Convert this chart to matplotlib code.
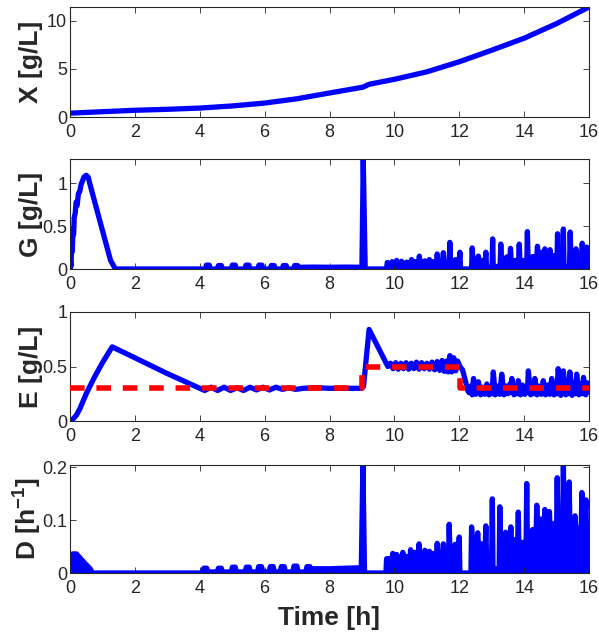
import numpy as np
import matplotlib
matplotlib.use('Agg')
import matplotlib.pyplot as plt
from matplotlib import ticker

plt.rcParams['font.family'] = ['Liberation Sans', 'DejaVu Sans']
plt.rcParams['mathtext.fontset'] = 'custom'
plt.rcParams['mathtext.rm'] = 'Liberation Sans'
plt.rcParams['mathtext.bf'] = 'Liberation Sans:bold'
plt.rcParams['lines.scale_dashes'] = False

# ---------------- data ----------------
# Biomass X [g/L]
X_t = [0, 1, 2, 3, 4, 5, 6, 7, 8, 9.04, 9.2, 9.3, 9.77, 10, 11, 12, 13, 14, 15, 16]
X_v = [0.40, 0.55, 0.70, 0.80, 0.93, 1.15, 1.45, 1.90, 2.50, 3.11, 3.38, 3.46, 3.77, 3.92, 4.70, 5.75, 6.95, 8.20, 9.72, 11.45]

# Glucose G [g/L] : initial transient and pre-9h part
G_head_t = [0, 0.01, 0.03, 0.05, 0.07, 0.09, 0.11, 0.13, 0.16, 0.19, 0.22, 0.26, 0.30,
            0.34, 0.38, 0.43, 0.50, 0.56, 0.62, 1.00, 1.25, 1.40, 4.10]
G_head_v = [0, 0.10, 0.03, 0.28, 0.20, 0.45, 0.40, 0.60, 0.65, 0.78, 0.74, 0.88, 0.90,
            0.98, 1.02, 1.07, 1.09, 1.07, 0.98, 0.45, 0.10, 0.0, 0.0]
G_bump_c = [4.25, 4.62, 5.05, 5.47, 5.87, 6.25, 6.62, 6.97]
G_bump_h = [0.045, 0.040, 0.045, 0.045, 0.045, 0.040, 0.040, 0.040]
G_mid_t = [7.10, 7.50, 8.00, 8.50, 9.00, 9.04, 9.10, 9.74]
G_mid_v = [0.020, 0.022, 0.020, 0.022, 0.020, 1.28, 0.0, 0.0]
G_spk_t = [9.78, 9.93, 10.07, 10.22, 10.38, 10.53, 10.64, 10.77, 10.94, 11.08, 11.20,
           11.32, 11.51, 11.71, 11.90, 12.02, 12.40, 12.59, 12.69, 12.82, 13.03, 13.15,
           13.28, 13.46, 13.58, 13.72, 13.85, 13.98, 14.10, 14.26, 14.41, 14.54, 14.64,
           14.80, 14.90, 15.03, 15.21, 15.42, 15.60, 15.69, 15.79, 15.93]
G_spk_h = [0.075, 0.085, 0.10, 0.09, 0.08, 0.11, 0.085, 0.15, 0.095, 0.11, 0.085,
           0.175, 0.19, 0.31, 0.11, 0.195, 0.245, 0.15, 0.10, 0.195, 0.35, 0.01,
           0.29, 0.14, 0.24, 0.10, 0.29, 0.10, 0.435, 0.145, 0.265, 0.195, 0.235,
           0.225, 0.155, 0.41, 0.465, 0.43, 0.235, 0.155, 0.30, 0.255]
G_shoulder = [0.065, 0.065, 0.07, 0.065, 0.065, 0.075, 0.075, 0.08, 0.075, 0.075, 0.075,
              0.09, 0.075, 0.10, 0.09, 0.0, 0.11, 0.09, 0.09, 0.02, 0.0, 0.03,
              0.10, 0.12, 0.09, 0.09, 0.09, 0.02, 0.13, 0.14, 0.18, 0.19, 0.17,
              0.14, 0.02, 0.03, 0.03, 0.17, 0.15, 0.14, 0.22, 0.17]

# Ethanol E [g/L]
E_t = [0, 0.1, 0.2, 0.3, 0.4, 0.5, 0.75, 1.0, 1.3, 2.0, 3.0, 4.15,
       4.35, 4.55, 4.75, 4.95, 5.15, 5.35, 5.55, 5.75, 5.95, 6.15, 6.35, 6.55, 6.75, 6.95,
       7.2, 7.6, 8.0, 8.5, 9.0, 9.05, 9.22, 9.8,
       9.88, 9.96, 10.04, 10.12, 10.20, 10.28, 10.36, 10.44, 10.52, 10.60, 10.68, 10.76,
       10.84, 10.92, 11.00, 11.08, 11.16, 11.24, 11.32, 11.40, 11.47, 11.54, 11.61, 11.66,
       11.71, 11.77, 11.83, 11.89, 11.95, 12.02, 12.10, 12.18, 12.26, 12.30,
       12.36, 12.40, 12.44, 12.51, 12.59, 12.66, 12.72, 12.79, 12.85, 12.92, 12.98, 13.01,
       13.05, 13.11, 13.18, 13.25, 13.31, 13.38, 13.44, 13.50, 13.56, 13.59, 13.62, 13.69,
       13.75, 13.79, 13.82, 13.89, 13.95, 14.02, 14.07, 14.10, 14.13, 14.20, 14.26, 14.30,
       14.33, 14.40, 14.46, 14.53, 14.59, 14.66, 14.72, 14.79, 14.85, 14.92, 14.98, 15.01,
       15.05, 15.13, 15.21, 15.28, 15.34, 15.37, 15.41, 15.48, 15.55, 15.58, 15.62, 15.69,
       15.76, 15.80, 15.83, 15.90, 15.95, 16.0]
E_v = [0, 0.02, 0.055, 0.11, 0.18, 0.25, 0.40, 0.535, 0.68, 0.58, 0.435, 0.28,
       0.31, 0.28, 0.31, 0.28, 0.305, 0.28, 0.31, 0.285, 0.31, 0.285, 0.31, 0.29, 0.305, 0.29,
       0.30, 0.305, 0.30, 0.30, 0.30, 0.32, 0.84, 0.50,
       0.53, 0.48, 0.535, 0.475, 0.53, 0.48, 0.535, 0.475, 0.53, 0.48, 0.54, 0.475,
       0.535, 0.48, 0.53, 0.475, 0.54, 0.47, 0.545, 0.465, 0.555, 0.455, 0.55, 0.45,
       0.60, 0.45, 0.58, 0.46, 0.55, 0.50, 0.47, 0.38, 0.28, 0.26,
       0.32, 0.24, 0.39, 0.245, 0.36, 0.24, 0.31, 0.245, 0.34, 0.24, 0.32, 0.25,
       0.45, 0.24, 0.32, 0.245, 0.43, 0.24, 0.32, 0.25, 0.34, 0.26, 0.39, 0.24,
       0.32, 0.25, 0.37, 0.24, 0.33, 0.245, 0.31, 0.26, 0.46, 0.24, 0.33, 0.25,
       0.39, 0.24, 0.32, 0.245, 0.37, 0.24, 0.33, 0.245, 0.39, 0.24, 0.34, 0.25,
       0.48, 0.235, 0.46, 0.24, 0.34, 0.25, 0.45, 0.235, 0.35, 0.25, 0.43, 0.24,
       0.34, 0.25, 0.40, 0.24, 0.35, 0.27]
E_ref_t = [0, 9.0, 9.0, 12.02, 12.02, 16]
E_ref_v = [0.3, 0.3, 0.5, 0.5, 0.3, 0.3]

# Dilution rate D [1/h]
D_head_t = [0, 0.005, 0.08, 0.20, 0.33, 0.46, 0.62, 0.69, 4.05]
D_head_v = [0, 0.027, 0.036, 0.036, 0.027, 0.018, 0.008, 0.0, 0.0]
D_bump_c = [4.17, 4.62, 5.05, 5.48, 5.86, 6.22, 6.56, 6.95, 7.35]
D_bump_h = [0.009, 0.009, 0.011, 0.011, 0.012, 0.012, 0.012, 0.013, 0.012]
D_mid_t = [7.5, 8.0, 8.5, 8.98, 9.03, 9.08, 9.74]
D_mid_v = [0.008, 0.008, 0.009, 0.010, 0.204, 0.0, 0.0]
D_spk_t = [9.76, 9.95, 10.07, 10.26, 10.38, 10.50, 10.64, 10.76, 10.94, 11.08, 11.20,
           11.32, 11.51, 11.69, 11.87, 12.00, 12.38, 12.57, 12.69, 12.82, 13.02, 13.17,
           13.25, 13.43, 13.59, 13.72, 13.82, 13.96, 14.08, 14.26, 14.39, 14.52, 14.64,
           14.78, 14.90, 15.02, 15.21, 15.39, 15.57, 15.78, 15.91]
D_spk_h = [0.027, 0.037, 0.035, 0.039, 0.030, 0.044, 0.039, 0.055, 0.043, 0.041, 0.037,
           0.056, 0.055, 0.092, 0.054, 0.068, 0.087, 0.076, 0.055, 0.089, 0.140, 0.008,
           0.125, 0.077, 0.087, 0.063, 0.115, 0.058, 0.169, 0.082, 0.128, 0.102, 0.120,
           0.116, 0.093, 0.180, 0.204, 0.172, 0.108, 0.152, 0.138]
D_shoulder = [0.027, 0.031, 0.030, 0.031, 0.026, 0.033, 0.031, 0.035, 0.035, 0.033, 0.031,
              0.035, 0.028, 0.050, 0.045, 0.0, 0.065, 0.055, 0.045, 0.030, 0.008, 0.006,
              0.055, 0.065, 0.058, 0.055, 0.050, 0.050, 0.060, 0.075, 0.090, 0.092, 0.100,
              0.085, 0.080, 0.090, 0.100, 0.090, 0.085, 0.120, 0.015]


# ---------------- helpers ----------------
def bumps(centers, heights, base):
    xs, ys = [], []
    for c, h in zip(centers, heights):
        xs += [c - 0.08, c - 0.045, c + 0.045, c + 0.08]
        ys += [base, h, h, base]
    return xs, ys


def spikes(t0, st, sh, shoulder, t_end, w=0.02):
    xs, ys, prev = [t0], [0.0], 0.0
    for t, h, s in zip(st, sh, shoulder):
        xs += [t - w, t, t + w]
        ys += [prev, h, s]
        prev = s
    xs.append(t_end)
    ys.append(prev)
    return xs, ys


BLUE = '#0000FF'
RED = '#FF0000'
INK = '#262626'
LW = 3.8

W, H = 599, 637
fig = plt.figure(figsize=(W / 100, H / 100), dpi=100)


def add_ax(top, bottom):
    return fig.add_axes([70 / W, 1 - bottom / H, 519 / W, (bottom - top) / H])


ax1 = add_ax(7, 117)
ax2 = add_ax(159, 269)
ax3 = add_ax(312, 421)
ax4 = add_ax(465, 573)
axes = [ax1, ax2, ax3, ax4]

line_kw = dict(color=BLUE, lw=LW, solid_capstyle='round', solid_joinstyle='round')

# X
ax1.plot(X_t, X_v, **line_kw)
ax1.set_ylim(0, 11.45)
ax1.set_yticks([0, 5, 10])
ax1.set_ylabel('X [g/L]')

# G
gb_x, gb_y = bumps(G_bump_c, G_bump_h, 0.0)
gs_x, gs_y = spikes(9.74, G_spk_t, G_spk_h, G_shoulder, 16.0)
G_all_t = G_head_t + gb_x + G_mid_t + gs_x
G_all_v = G_head_v + gb_y + G_mid_v + gs_y
ax2.plot(G_all_t, G_all_v, **line_kw)
ax2.fill_between(gs_x, 0, gs_y, color=BLUE, lw=0)
ax2.set_ylim(0, 1.28)
ax2.set_yticks([0, 0.5, 1])
ax2.set_ylabel('G [g/L]')

# E
ax3.plot(E_t, E_v, zorder=2, **line_kw)
ax3.plot(E_ref_t, E_ref_v, color=RED, lw=4, dashes=(10.5, 8.5), zorder=3)
ax3.set_ylim(0, 1)
ax3.set_yticks([0, 0.5, 1])
ax3.set_ylabel('E [g/L]')

# D
db_x, db_y = bumps(D_bump_c, D_bump_h, 0.002)
ds_x, ds_y = spikes(9.74, D_spk_t, D_spk_h, D_shoulder, 16.0)
D_all_t = D_head_t + db_x + D_mid_t + ds_x
D_all_v = D_head_v + db_y + D_mid_v + ds_y
ax4.plot(D_all_t, D_all_v, **line_kw)
ax4.fill_between(D_all_t, 0, D_all_v, color=BLUE, lw=0)
ax4.set_ylim(0, 0.204)
ax4.set_yticks([0, 0.1, 0.2])
ax4.set_ylabel(r'D [h$^{\mathbf{-1}}$]')
ax4.set_xlabel('Time [h]', fontsize=19, fontweight='bold', color=INK)
ax4.xaxis.set_label_coords(0.5, -0.31)

for ax in axes:
    ax.set_xlim(0, 16)
    ax.set_xticks(range(0, 17, 2))
    ax.yaxis.set_major_formatter(ticker.FormatStrFormatter('%g'))
    ax.tick_params(direction='in', top=True, right=True, length=4, width=0.6,
                   colors=INK, labelsize=13)
    ax.tick_params(axis='x', pad=5)
    ax.tick_params(axis='y', pad=2)
    for sp in ax.spines.values():
        sp.set_color(INK)
        sp.set_linewidth(0.8)
    ax.yaxis.label.set_fontsize(19)
    ax.yaxis.label.set_fontweight('bold')
    ax.yaxis.label.set_color(INK)
    ax.yaxis.set_label_coords(-0.052, 0.5)

fig.savefig('out.png', dpi=100)
